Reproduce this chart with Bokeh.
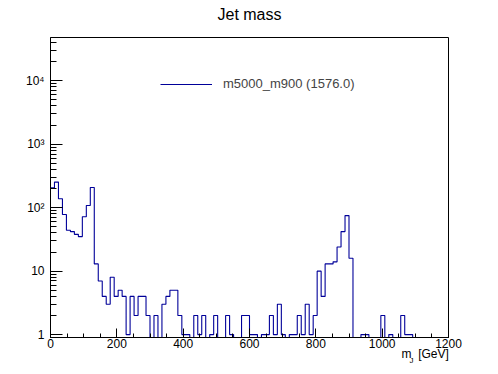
import numpy as np
from bokeh.plotting import figure
from bokeh.models import FixedTicker, Legend, LegendItem, Range1d, Title
from bokeh.embed import file_html
from bokeh.resources import INLINE

# ---- data ----
x_min, x_max, n_bins = 0, 1200, 100
counts = [206, 253, 138, 78, 44, 42, 38, 35, 72, 108,
          208, 13, 7, 4, 3, 8, 4, 5, 4, 1,
          4, 2, 4, 4, 2, 0, 2, 0, 3, 4,
          5, 5, 2, 1, 1, 0, 2, 1, 2, 0,
          1, 2, 0, 0, 2, 1, 0, 0, 2, 2,
          1, 1, 0, 1, 1, 2, 1, 3, 1, 0,
          1, 1, 2, 1, 3, 1, 2, 10, 4, 13,
          13, 14, 24, 42, 75, 16, 0, 0, 1, 1,
          0, 0, 0, 2, 0, 1, 0, 0, 2, 1,
          1, 0, 0, 0, 0, 0, 0, 0, 0, 0]
legend_label = "m5000_m900 (1576.0)"
title_text = "Jet mass"
NBSP = "\u00a0"
x_label_main = "m" + NBSP * 2 + "[GeV]"
x_label_sub = "J"
x_ticks = [0, 200, 400, 600, 800, 1000, 1200]
y_ticks = [1, 10, 100, 1000, 10000]
y_tick_labels = {1: "1", 10: "10", 100: "10²", 1000: "10³", 10000: "10⁴"}

FONT = "Liberation Sans"
LINE_COLOR = "#000099"

edges = np.linspace(x_min, x_max, n_bins + 1)
c = np.array(counts, dtype=float)
disp = np.where(c > 0, c, 0.1)  # empty bins drawn below the frame (log scale)
# histogram outline: each bin contributes its left and right edge at its height
hx = np.repeat(edges, 2)[1:-1]
hy = np.repeat(disp, 2)

W, H = 498, 374
p = figure(width=W, height=H, output_backend="svg", toolbar_location=None,
           title=None, y_axis_type="log",
           x_range=Range1d(x_min, x_max), y_range=Range1d(0.9, 48000),
           min_border_left=50, min_border_right=W - 448,
           min_border_top=37, min_border_bottom=H - 337)
p.background_fill_color = "white"
p.border_fill_color = "white"
p.outline_line_color = "black"
p.outline_line_width = 1
p.xgrid.visible = False
p.ygrid.visible = False

hist = p.line(hx, hy, line_color=LINE_COLOR, line_width=1.1)

# x axis
p.xaxis.ticker = FixedTicker(ticks=x_ticks, minor_ticks=list(range(0, 1201, 50)))
p.xaxis.major_tick_in = 9
p.xaxis.major_tick_out = 0
p.xaxis.minor_tick_in = 4
p.xaxis.minor_tick_out = 0
p.xaxis.major_label_text_font = FONT
p.xaxis.major_label_text_font_size = "12px"
p.xaxis.major_label_text_color = "black"
p.xaxis.major_label_standoff = 1
# the label is anchored by its centre at the axis end: trailing no-break
# spaces move the visible text so it ends at the frame's right edge
p.xaxis.axis_label = x_label_main + NBSP * 14
p.xaxis.axis_label_text_font = FONT
p.xaxis.axis_label_text_font_size = "12px"
p.xaxis.axis_label_text_font_style = "normal"
p.xaxis.axis_label_text_color = "black"
p.xaxis.axis_label_align = "end"
p.xaxis.axis_label_standoff = -4

# y axis
minor_y = [m * 10 ** d for d in range(0, 5) for m in range(2, 10)]
p.yaxis.ticker = FixedTicker(ticks=y_ticks, minor_ticks=minor_y)
p.yaxis.major_label_overrides = y_tick_labels
p.yaxis.major_tick_in = 12
p.yaxis.major_tick_out = 0
p.yaxis.minor_tick_in = 6
p.yaxis.minor_tick_out = 0
p.yaxis.major_label_text_font = FONT
p.yaxis.major_label_text_font_size = "12px"
p.yaxis.major_label_text_color = "black"
p.yaxis.major_label_standoff = 6

for ax in (p.xaxis, p.yaxis):
    ax.axis_line_color = "black"
    ax.major_tick_line_color = "black"
    ax.minor_tick_line_color = "black"

# subscript of the x label
p.add_layout(Title(text=x_label_sub, align="right", offset=35,
                   vertical_align="top",
                   text_font=FONT, text_font_size="8px",
                   text_font_style="normal", text_color="black",
                   standoff=-16), "below")

# title (a blank spacer next to the frame, then the title itself)
p.add_layout(Title(text=" ", text_font=FONT, text_font_size="11px",
                   standoff=0), "above")
p.add_layout(Title(text=title_text, align="center", text_font=FONT,
                   text_font_size="16px", text_font_style="normal",
                   text_color="black", standoff=2), "above")

# legend
legend = Legend(items=[LegendItem(label=legend_label, renderers=[hist])],
                location=(110, 246), glyph_width=52, glyph_height=14,
                label_height=14, label_standoff=11, padding=0, margin=0,
                spacing=0, border_line_color=None, background_fill_alpha=0,
                label_text_font=FONT, label_text_font_size="13px")
p.add_layout(legend)

open("out.html", "w").write(file_html(p, INLINE))
